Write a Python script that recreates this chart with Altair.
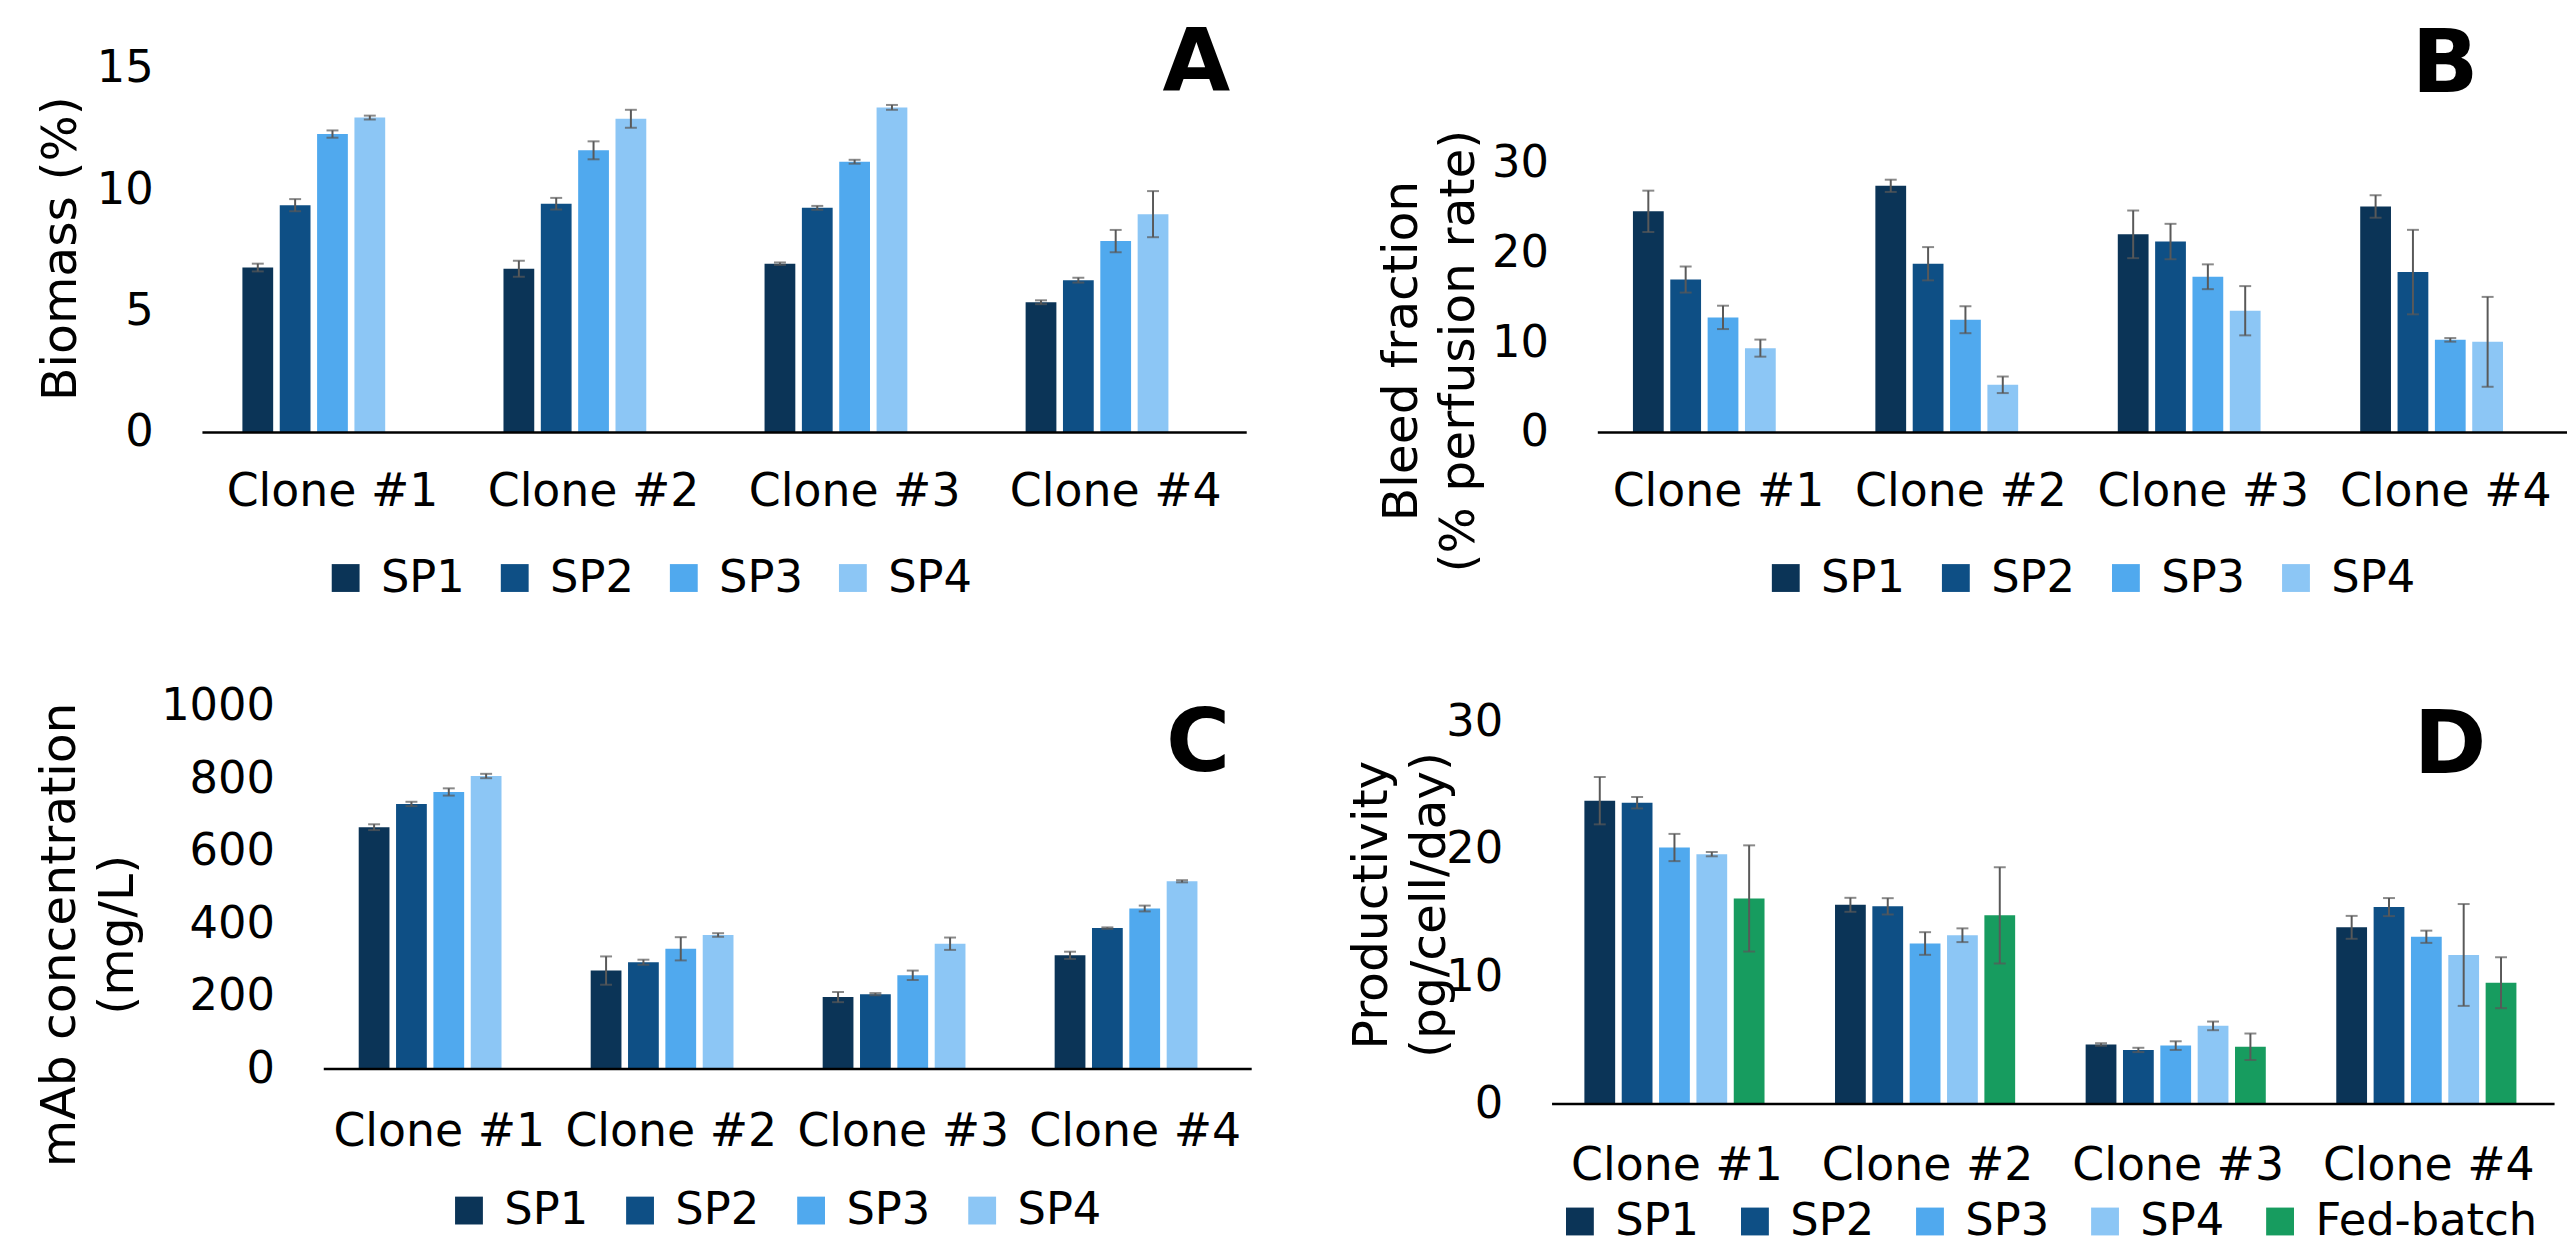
import altair as alt
import pandas as pd

FONT = "DejaVu Sans"

clones = ["Clone #1", "Clone #2", "Clone #3", "Clone #4"]
sp_series = ["SP1", "SP2", "SP3", "SP4"]
d_series = ["SP1", "SP2", "SP3", "SP4", "Fed-batch"]
sp_colors = ["#0b3457", "#0e4f85", "#50a9ee", "#8cc6f5"]
d_colors = ["#0b3457", "#0e4f85", "#50a9ee", "#8cc6f5", "#179c5f"]

# rows = clones, columns = series
biomass = [[6.78, 9.35, 12.28, 12.96],
           [6.73, 9.41, 11.61, 12.91],
           [6.94, 9.24, 11.14, 13.38],
           [5.35, 6.26, 7.87, 8.98]]
biomass_err = [[0.16, 0.25, 0.15, 0.08],
               [0.33, 0.24, 0.37, 0.37],
               [0.05, 0.08, 0.08, 0.10],
               [0.08, 0.10, 0.46, 0.95]]

bleed = [[24.56, 16.97, 12.76, 9.34],
         [27.40, 18.73, 12.50, 5.26],
         [22.00, 21.20, 17.28, 13.50],
         [25.10, 17.80, 10.26, 10.04]]
bleed_err = [[2.30, 1.45, 1.30, 0.95],
             [0.68, 1.85, 1.50, 0.92],
             [2.65, 1.97, 1.38, 2.74],
             [1.25, 4.70, 0.20, 5.00]]

mab = [[665, 729, 762, 806],
       [270, 293, 330, 368],
       [197, 205, 257, 344],
       [312, 387, 441, 516]]
mab_err = [[8, 6, 10, 6],
           [39, 7, 32, 5],
           [14, 3, 13, 17],
           [10, 2, 8, 3]]

prod = [[23.78, 23.62, 20.10, 19.58, 16.10],
        [15.60, 15.48, 12.56, 13.21, 14.77],
        [4.63, 4.20, 4.54, 6.09, 4.45],
        [13.83, 15.42, 13.09, 11.66, 9.48]]
prod_err = [[1.86, 0.45, 1.07, 0.17, 4.17],
            [0.55, 0.64, 0.89, 0.54, 3.78],
            [0.10, 0.17, 0.34, 0.34, 1.04],
            [0.90, 0.71, 0.48, 4.00, 2.00]]


def panel(values, errs, series, colors, width, height, ymax, yticks, title,
          title_x, title_y, pad_in, off_pad, legend_x, legend_y, col_pad,
          letter, letter_x, letter_y, xlab_pad):
    rows = []
    for ci, c in enumerate(clones):
        for si, s in enumerate(series):
            v = values[ci][si]
            e = errs[ci][si]
            rows.append({"clone": c, "series": s, "value": v,
                         "lo": v - e, "hi": v + e})
    df = pd.DataFrame(rows)

    x = alt.X("clone:N", sort=clones,
              scale=alt.Scale(paddingInner=pad_in, paddingOuter=pad_in / 2),
              axis=alt.Axis(title=None, labelAngle=0, ticks=False, grid=False,
                            domainColor="black", domainWidth=2.5, zindex=1,
                            labelFont=FONT, labelFontSize=46, labelColor="black",
                            labelBaseline="middle", labelPadding=xlab_pad,
                            labelLimit=1000))
    xo = alt.XOffset("series:N", sort=series,
                     scale=alt.Scale(domain=series, paddingInner=off_pad,
                                     paddingOuter=0))
    yscale = alt.Scale(domain=[0, ymax], nice=False, zero=True)
    yaxis = alt.Axis(values=yticks, format="d", title=title,
                     titleX=title_x, titleY=title_y,
                     titleAngle=270, titleAlign="center", titleBaseline="middle",
                     titleFont=FONT, titleFontSize=49, titleFontWeight="normal",
                     titleColor="black", titleLineHeight=58, titleLimit=2000,
                     domain=False, ticks=False, grid=False,
                     labelFont=FONT, labelFontSize=45, labelColor="black",
                     labelPadding=49, labelBaseline="middle")

    base = alt.Chart(df)
    bars = base.mark_bar().encode(
        x=x, xOffset=xo,
        y=alt.Y("value:Q", scale=yscale, axis=yaxis),
        color=alt.Color("series:N", sort=series,
                        scale=alt.Scale(domain=series, range=colors),
                        legend=alt.Legend(title=None, orient="none",
                                          legendX=legend_x, legendY=legend_y,
                                          direction="horizontal",
                                          columns=len(series),
                                          symbolType="square", symbolSize=784,
                                          symbolStrokeWidth=0,
                                          labelFont=FONT, labelFontSize=45,
                                          labelColor="black", labelOffset=13,
                                          labelLimit=1000,
                                          columnPadding=col_pad, padding=0)),
    )
    rules = base.mark_rule(color="#595959", strokeWidth=2).encode(
        x=alt.X("clone:N", sort=clones), xOffset=xo,
        y=alt.Y("lo:Q", scale=yscale), y2="hi:Q")
    cap_lo = base.mark_tick(color="#595959", thickness=2, size=12).encode(
        x=alt.X("clone:N", sort=clones), xOffset=xo,
        y=alt.Y("lo:Q", scale=yscale))
    cap_hi = base.mark_tick(color="#595959", thickness=2, size=12).encode(
        x=alt.X("clone:N", sort=clones), xOffset=xo,
        y=alt.Y("hi:Q", scale=yscale))
    label = alt.Chart(pd.DataFrame({"t": [letter]})).mark_text(
        font=FONT, fontSize=88, fontWeight="bold", color="black",
        align="right", baseline="alphabetic").encode(
        text="t:N", x=alt.value(letter_x), y=alt.value(letter_y))
    return alt.layer(bars, rules, cap_lo, cap_hi, label).properties(
        width=width, height=height)


def spacer(w):
    return alt.Chart(pd.DataFrame({"t": [""]})).mark_text().encode(
        text="t:N", x=alt.value(0), y=alt.value(0)).properties(width=w, height=1)


pA = panel(biomass, biomass_err, sp_series, sp_colors, 1050, 366, 15,
           [0, 5, 10, 15], "Biomass (%)", -142, 181,
           0.31, 0.176, 122, 490, 27, "A", 1034, 23, 60)
pB = panel(bleed, bleed_err, sp_series, sp_colors, 975, 366, 40.5,
           [0, 10, 20, 30], ["Bleed fraction", "(% perfusion rate)"], -197, 284,
           0.294, 0.189, 167, 490, 28, "B", 886, 24, 60)
pC = panel(mab, mab_err, sp_series, sp_colors, 933, 365, 1000,
           [0, 200, 400, 600, 800, 1000], ["mAb concentration", "(mg/L)"],
           -265, 230, 0.3055, 0.188, 124, 485, 29, "C", 912, 66, 63)
pD = panel(prod, prod_err, d_series, d_colors, 1008, 400, 31.25,
           [0, 10, 20, 30], ["Productivity", "(pg/cell/day)"], -181, 200,
           0.262, 0.153, 6, 496, 33, "D", 940, 68, 63)

row1 = alt.hconcat(pA, pB, spacing=353, bounds="flush").resolve_scale(
    color="independent", x="independent", y="independent").resolve_legend(
    color="independent")
row2 = alt.hconcat(spacer(122), pC, spacer(302), pD, spacing=0,
                   bounds="flush").resolve_scale(
    color="independent", x="independent", y="independent").resolve_legend(
    color="independent")

chart = alt.vconcat(row1, row2, spacing=641, bounds="flush").resolve_scale(
    color="independent", x="independent", y="independent").resolve_legend(
    color="independent").properties(
    padding={"left": 27, "top": 10, "right": 0, "bottom": 0},
    background="white",
).configure_view(strokeWidth=0)

chart.save("out.html", embed_options={"renderer": "svg", "actions": False})
